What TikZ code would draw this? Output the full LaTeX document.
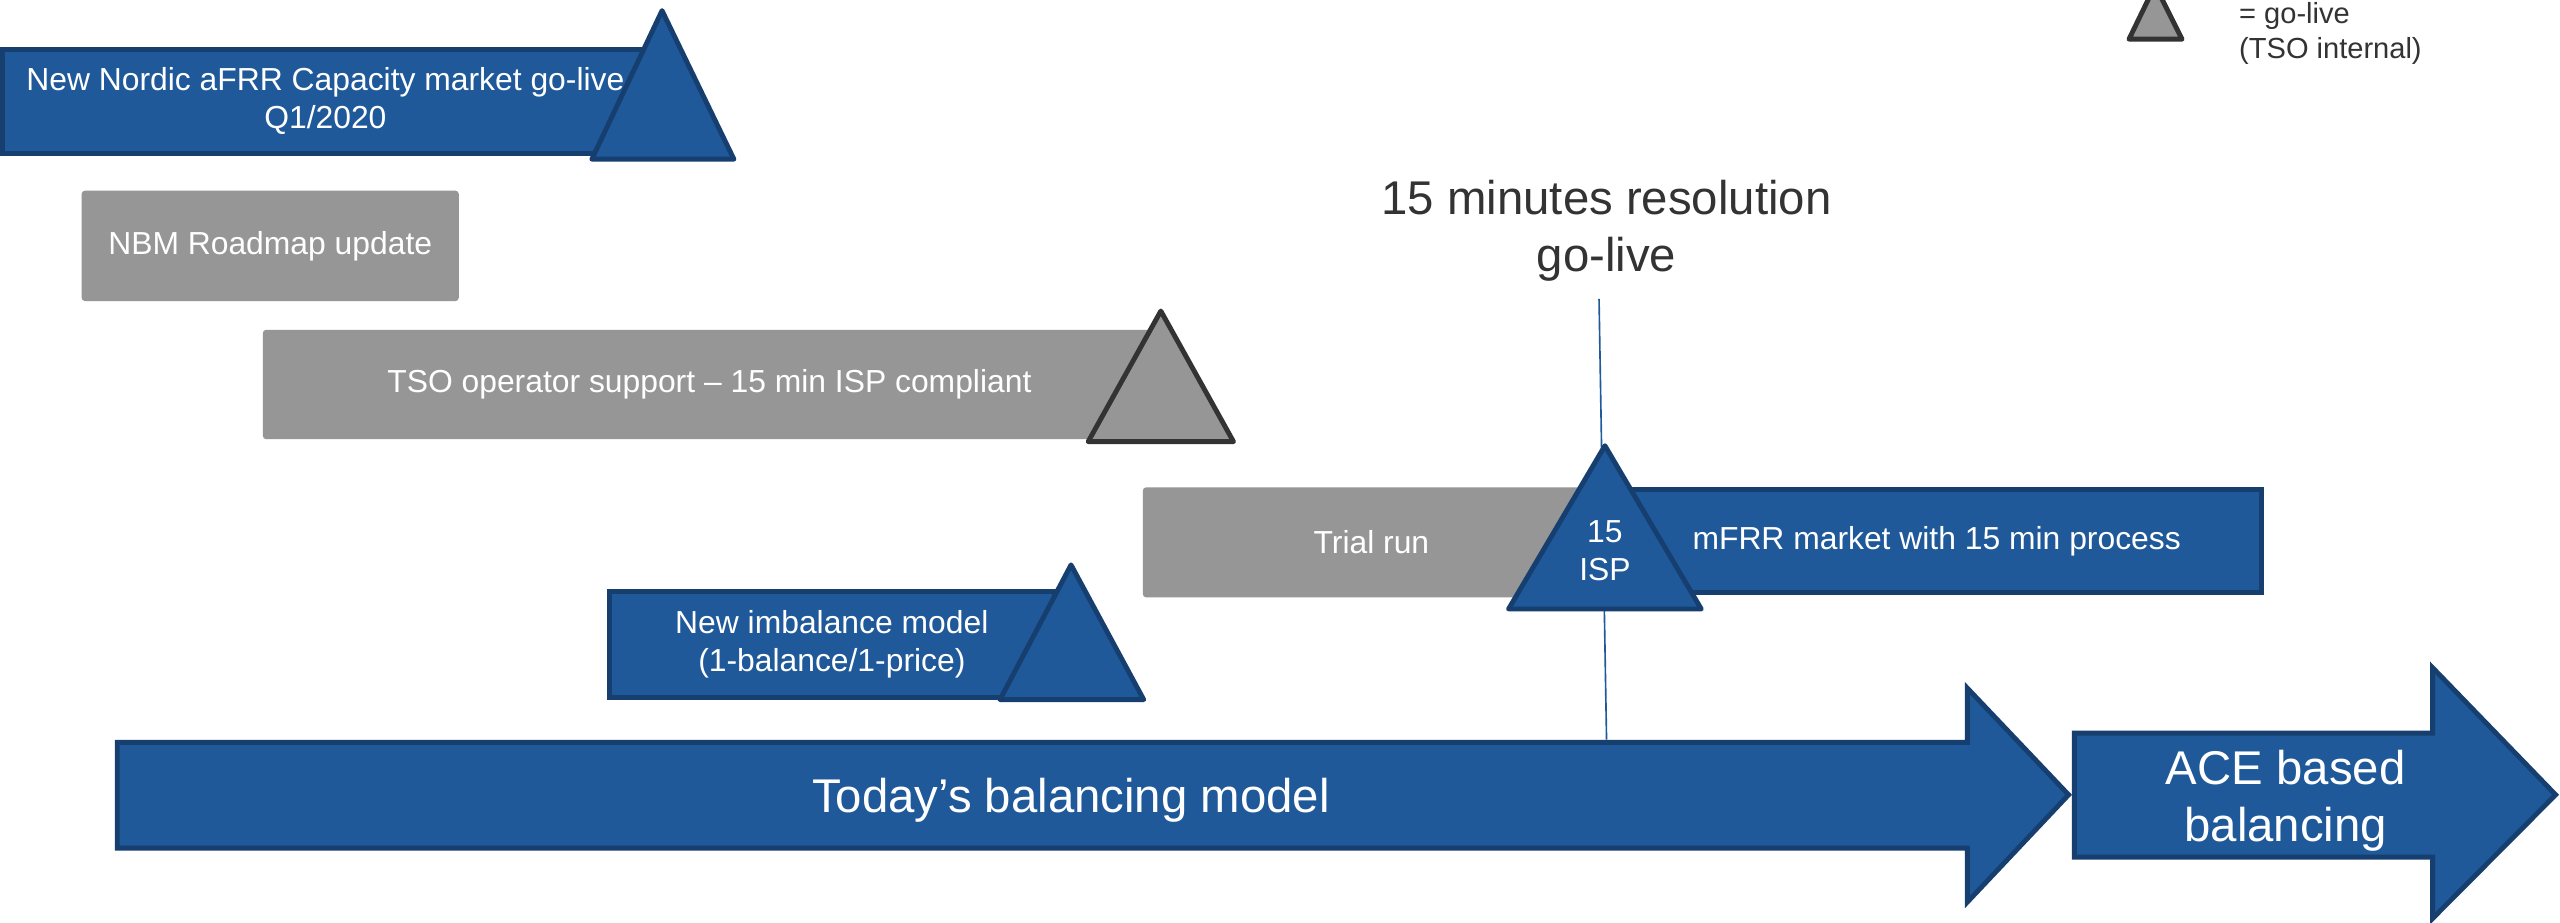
\documentclass[tikz,border=0pt]{standalone}
\usepackage{fontspec}
\setmainfont{Liberation Sans}
\definecolor{bfill}{RGB}{31,89,154}
\definecolor{bline}{RGB}{22,63,112}
\definecolor{gfill}{RGB}{150,150,150}
\definecolor{gline}{RGB}{51,51,51}
\definecolor{tdark}{RGB}{51,51,51}
\newcommand\fntA{\fontsize{19.5}{23.4}\selectfont}
\newcommand\fntB{\fontsize{29}{34.8}\selectfont}
\newcommand\fntC{\fontsize{17.8}{21.4}\selectfont}
\tikzset{
  bluebox/.style={draw=bline, fill=bfill, line width=3pt, text=white, font=\fntA, align=center, inner sep=0pt, outer sep=0pt},
  graybox/.style={fill=gfill, rounded corners=2pt, text=white, font=\fntA, align=center, inner sep=0pt, outer sep=0pt},
  bluetri/.style={draw=bline, fill=bfill, line width=3pt, line join=round},
  graytri/.style={draw=gline, fill=gfill, line width=3pt, line join=round},
  bigarrow/.style={draw=bline, fill=bfill, line width=3pt, line join=miter},
  wlabel/.style={text=white, inner sep=0pt, align=center},
  dlabel/.style={text=tdark, inner sep=0pt},
  guide/.style={draw=bfill, line width=1pt}
}
\begin{document}
\begin{tikzpicture}[x=1pt,y=-1pt]
\useasboundingbox (0,0) rectangle (1568,565);
\fill[white] (0,0) rectangle (1568,565);

% guide line of the 15 min go-live
\coordinate (gtop) at (979.4,183);
\coordinate (gbot) at (984,453);
\draw[guide] (gtop) -- (gbot);

% boxes
\node[bluebox, minimum width=395.3pt, minimum height=64pt] (afrr) at (199.3,62.05) {New Nordic aFRR Capacity market go-live\\Q1/2020};
\node[graybox, minimum width=231pt, minimum height=67.6pt] (nbm) at (165.5,150.6) {NBM Roadmap update};
\node[graybox, minimum width=547pt, minimum height=67pt] (tso) at (434.5,235.5) {TSO operator support – 15 min ISP compliant};
\node[graybox, minimum width=280pt, minimum height=67.4pt] (trial) at (840,332.2) {Trial run};
\node[bluebox, minimum width=397.5pt, minimum height=63pt] (mfrr) at (1186.2,331.5) {mFRR market with 15 min process};
\node[bluebox, minimum width=272.5pt, minimum height=64.5pt] (imb) at (509.5,394.7) {New imbalance model\\(1-balance/1-price)};

% go-live triangles
\draw[bluetri] (405.5,6.5) -- (449.5,97.5) -- (362.5,97.5) -- cycle;
\draw[graytri] (711,190.5) -- (755.5,270.5) -- (666.5,270.5) -- cycle;
\draw[bluetri] (983,273) -- (1042,373) -- (924,373) -- cycle;
\draw[bluetri] (656,346) -- (700.5,428.5) -- (612.5,428.5) -- cycle;
\node[wlabel, font=\fntA] (isp) at (983,337.5) {15\\ISP};

% big arrows
\draw[bigarrow] (71.8,454.7) -- (1205,454.7) -- (1205,421.5) -- (1267,486.8) -- (1205,552.5) -- (1205,519.5) -- (71.8,519.5) -- cycle;
\node[wlabel, font=\fntB, anchor=base] (today) at (656,497.8) {Today’s balancing model};
\draw[bigarrow] (1270.5,449) -- (1490,449) -- (1490,409) -- (1565.3,486.8) -- (1490,562.5) -- (1490,525) -- (1270.5,525) -- cycle;
\node[wlabel, font=\fntB] (ace) at (1400,490.4) {ACE based\\balancing};

% headline
\node[dlabel, font=\fntB, align=center] (res) at (984,141.5) {15 minutes resolution\\go-live};

% legend
\draw[graytri] (1320,-9) -- (1336.5,24) -- (1304,24) -- cycle;
\node[dlabel, font=\fntC, align=left, anchor=west] (legend) at (1371.3,20.35) {= go-live\\(TSO internal)};
\end{tikzpicture}
\end{document}
